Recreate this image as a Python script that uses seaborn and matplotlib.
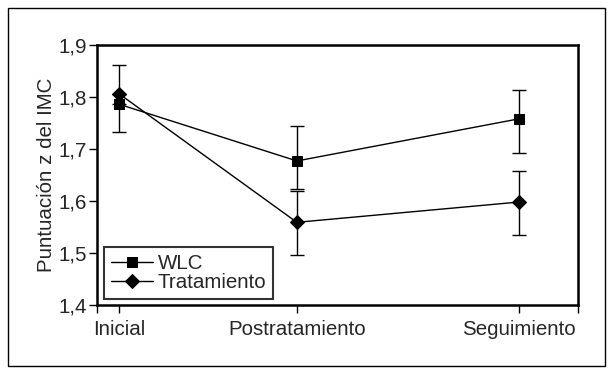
import matplotlib
matplotlib.use("Agg")
import matplotlib.pyplot as plt
import seaborn as sns
import pandas as pd
from matplotlib.patches import Rectangle

# datos
momentos = ["Inicial", "Postratamiento", "Seguimiento"]
posiciones = [1, 9, 19]
wlc_media = [1.786, 1.677, 1.758]
wlc_err_inf = [0.054, 0.053, 0.066]
wlc_err_sup = [0.0, 0.068, 0.056]
trat_media = [1.806, 1.559, 1.598]
trat_err_inf = [0.0, 0.062, 0.063]
trat_err_sup = [0.056, 0.061, 0.059]
y_ticks = [1.4, 1.5, 1.6, 1.7, 1.8, 1.9]
y_labels = ["1,4", "1,5", "1,6", "1,7", "1,8", "1,9"]

df = pd.DataFrame({
    "x": posiciones * 2,
    "z": wlc_media + trat_media,
    "grupo": ["WLC"] * 3 + ["Tratamiento"] * 3,
})

sns.set_style("white")
plt.rcParams["font.family"] = ["Liberation Sans", "DejaVu Sans"]
fs = 14.8

fig = plt.figure(figsize=(6.15, 3.74), dpi=100)
ax = fig.add_axes([97 / 615, 1 - 305 / 374, 481 / 615, 260 / 374])

fig.patches.append(Rectangle((8 / 615, 1 - 366 / 374), 597 / 615, 358 / 374,
                             transform=fig.transFigure, fill=False,
                             edgecolor="black", linewidth=1.0))

sns.lineplot(data=df, x="x", y="z", style="grupo", markers={"WLC": "s", "Tratamiento": "D"},
             dashes=False, color="black", linewidth=1.0, markersize=7.5,
             markeredgecolor="black", ax=ax, zorder=3)

ax.errorbar(posiciones, wlc_media, yerr=[wlc_err_inf, wlc_err_sup], fmt="none",
            ecolor="black", elinewidth=1.0, capsize=5.3, capthick=1.0, zorder=2)
ax.errorbar(posiciones, trat_media, yerr=[trat_err_inf, trat_err_sup], fmt="none",
            ecolor="black", elinewidth=1.0, capsize=5.3, capthick=1.0, zorder=2)

ax.set_xlim(0, 21.66)
ax.set_ylim(1.4, 1.9)
ax.set_xticks([0] + posiciones + [21.66])
ax.set_xticklabels([""] + momentos + [""], fontsize=fs)
ax.set_yticks(y_ticks)
ax.set_yticklabels(y_labels, fontsize=fs)
ax.set_xlabel("")
ax.set_ylabel("Puntuación z del IMC", fontsize=fs, labelpad=2)
ax.tick_params(axis="y", direction="out", length=6, width=1.0, color="black", left=True, pad=1)
ax.tick_params(axis="x", direction="out", length=6, width=1.0, color="black", bottom=True, pad=5)

for s in ax.spines.values():
    s.set_linewidth(1.8)
    s.set_color("black")

leg = ax.legend(loc="lower left", bbox_to_anchor=(0.015, 0.023), borderaxespad=0,
                fontsize=fs, frameon=True, fancybox=False, handlelength=2.0,
                handletextpad=0.25, labelspacing=0.0, borderpad=0.35)
leg.get_frame().set_edgecolor("black")
leg.get_frame().set_linewidth(1.5)

fig.savefig("out.png", dpi=100)
